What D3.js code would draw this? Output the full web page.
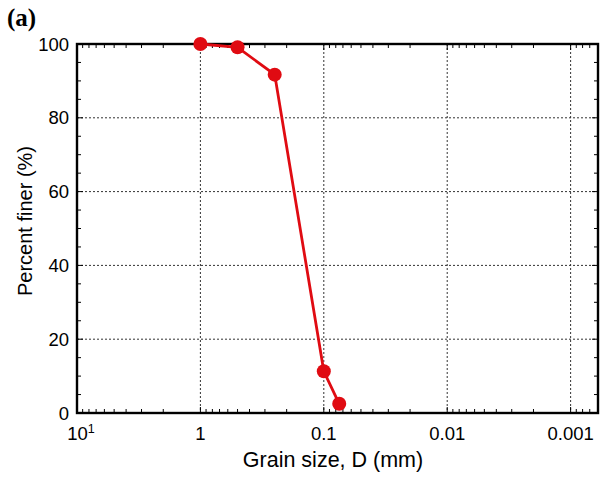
<!doctype html>
<html lang="en">
<head>
<meta charset="utf-8">
<title>Grain size distribution</title>
<script src="https://d3js.org/d3.v7.min.js"></script>
<style>
  body { margin: 0; background: #fff; }
  svg { display: block; }
  text { fill: #000; }
</style>
</head>
<body>
<script>
    // data
    let grainSize = [1, 0.5, 0.25, 0.1, 0.075]
    let percentFiner = [100, 99.1, 91.7, 11.3, 2.5]
    let xTicks = [10, 1, 0.1, 0.01, 0.001]
    let xTickLabels = ["10", "1", "0.1", "0.01", "0.001"]
    let yTicks = [0, 20, 40, 60, 80, 100]

    let width = 610
    let height = 479
    let margin = { top: 44, right: 12, bottom: 66, left: 77 }
    let sans = "'Liberation Sans', Arial, sans-serif"

    const svg = d3.select("body").append("svg")
        .attr("width", width)
        .attr("height", height)
        .attr("font-family", sans)

    let x = d3.scaleLog()
        .domain([10, 0.0006])
        .range([margin.left, width - margin.right])

    let y = d3.scaleLinear()
        .domain([0, 100])
        .range([height - margin.bottom, margin.top])

    let x0 = margin.left, x1 = width - margin.right
    let y0 = margin.top, y1 = height - margin.bottom

    // dotted grid
    const grid = svg.append("g")
        .attr("stroke", "#333")
        .attr("stroke-width", 1)
        .attr("stroke-dasharray", "2,2")
    grid.append("g").selectAll("line")
        .data(xTicks.filter(d => d < 10))
        .join("line")
        .attr("x1", d => x(d)).attr("x2", d => x(d))
        .attr("y1", y0).attr("y2", y1)
    grid.append("g").selectAll("line")
        .data(yTicks.filter(d => d > 0 && d < 100))
        .join("line")
        .attr("x1", x0).attr("x2", x1)
        .attr("y1", d => y(d)).attr("y2", d => y(d))

    // minor ticks on x (2..9 in each decade), top and bottom, pointing inward
    let minorX = []
    for (let e = -4; e <= 1; e++) {
        for (let m = 1; m <= 9; m++) {
            let v = m * Math.pow(10, e)
            if (v <= 10 && v >= 0.0006) minorX.push(v)
        }
    }
    const ticks = svg.append("g").attr("stroke", "#000").attr("stroke-width", 1)
    ticks.append("g").selectAll("line")
        .data(minorX)
        .join("line")
        .attr("x1", d => x(d)).attr("x2", d => x(d))
        .attr("y1", y1).attr("y2", d => y1 - (xTicks.includes(d) ? 6 : 4))
    ticks.append("g").selectAll("line")
        .data(minorX)
        .join("line")
        .attr("x1", d => x(d)).attr("x2", d => x(d))
        .attr("y1", y0).attr("y2", d => y0 + (xTicks.includes(d) ? 6 : 4))

    // minor ticks on y every 5
    let minorY = d3.range(0, 101, 5)
    ticks.append("g").selectAll("line")
        .data(minorY)
        .join("line")
        .attr("x1", x0).attr("x2", d => x0 + (d % 20 === 0 ? 6 : 4))
        .attr("y1", d => y(d)).attr("y2", d => y(d))
    ticks.append("g").selectAll("line")
        .data(minorY)
        .join("line")
        .attr("x1", x1).attr("x2", d => x1 - (d % 20 === 0 ? 6 : 4))
        .attr("y1", d => y(d)).attr("y2", d => y(d))

    // frame
    svg.append("rect")
        .attr("x", x0).attr("y", y0)
        .attr("width", x1 - x0).attr("height", y1 - y0)
        .attr("fill", "none")
        .attr("stroke", "#000")
        .attr("stroke-width", 2.4)

    // x tick labels
    const xl = svg.append("g")
        .attr("font-size", 18.5)
        .attr("text-anchor", "middle")
    xTicks.forEach((d, i) => {
        let t = xl.append("text")
            .attr("x", x(d) + (i === 0 ? 4 : 0))
            .attr("y", y1 + 27)
        if (i === 0) {
            t.append("tspan").text(xTickLabels[i])
            t.append("tspan").attr("font-size", 12.5).attr("dy", -7).text("1")
        } else {
            t.text(xTickLabels[i])
        }
    })

    // y tick labels
    svg.append("g")
        .attr("font-size", 18.5)
        .attr("text-anchor", "end")
        .selectAll("text")
        .data(yTicks)
        .join("text")
        .attr("x", x0 - 8)
        .attr("y", d => y(d) + 6.5)
        .text(d => d)

    // axis titles
    svg.append("text")
        .attr("x", 333)
        .attr("y", y1 + 54)
        .attr("text-anchor", "middle")
        .attr("font-size", 21.5)
        .text("Grain size, D (mm)")

    svg.append("text")
        .attr("transform", `translate(32, 221) rotate(-90)`)
        .attr("text-anchor", "middle")
        .attr("font-size", 20)
        .text("Percent finer (%)")

    // panel label
    svg.append("text")
        .attr("x", 7)
        .attr("y", 26)
        .attr("font-family", "'Liberation Serif', 'Times New Roman', serif")
        .attr("font-weight", "bold")
        .attr("font-size", 25)
        .text("(a)")

    // curve
    let points = grainSize.map((g, i) => [g, percentFiner[i]])
    let red = "#e00b12"
    svg.append("path")
        .datum(points)
        .attr("fill", "none")
        .attr("stroke", red)
        .attr("stroke-width", 2.8)
        .attr("d", d3.line().x(d => x(d[0])).y(d => y(d[1])))

    svg.append("g")
        .selectAll("circle")
        .data(points)
        .join("circle")
        .attr("cx", d => x(d[0]))
        .attr("cy", d => y(d[1]))
        .attr("r", 7)
        .attr("fill", red)
</script>
</body>
</html>
